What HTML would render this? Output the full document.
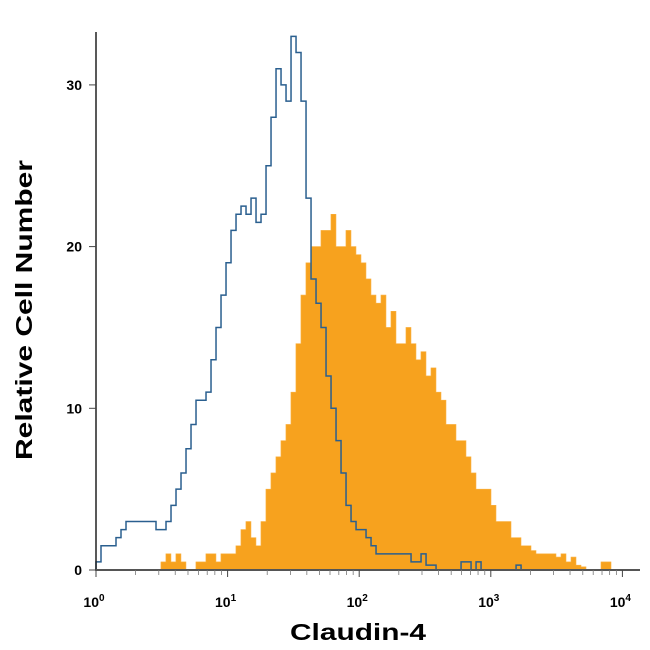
<!DOCTYPE html>
<html><head><meta charset="utf-8"><style>
body{margin:0;background:#fff}
svg{display:block;font-family:"Liberation Sans",sans-serif}
</style></head><body>
<svg id="chart" width="650" height="650">
<g id="plot"></g>
<g id="axes"></g>
<text x="358" y="640" text-anchor="middle" font-size="23" font-weight="bold" textLength="136" lengthAdjust="spacingAndGlyphs">Claudin-4</text>
<text transform="translate(32,310) rotate(-90)" text-anchor="middle" font-size="23" font-weight="bold" textLength="300" lengthAdjust="spacingAndGlyphs">Relative Cell Number</text>
</svg>
<script>
// log10 bin starts and step (decades)
const blueStart = 0.0;
const orangeStart = 0.4554;
const binStep = 0.038;
const blueValues = [0.5,1.5,1.5,1.5,2,2.5,3,3,3,3,3,3,2.5,2.5,3,4,5,6,7.5,9,10.5,10.5,11,13,15,17,19,21,22,22.5,22,23,21.5,22,25,28,31,30,29,33,32,29,23,18,16.5,15,12,10,8,6,4,3,2.5,2.5,2,1.5,1,1,1,1,1,1,1,0.5,0.5,1,0.3,0.3,0,0,0,0,0,0.5,0.5,0,0.5,0,0,0,0,0,0,0,0.3,0,0,0,0];
const orangeValues = [0,0.5,1,0.5,1,0.5,0,0,0.5,0.5,1,1,0.5,1,1,1,1.5,2.5,3,2,1.5,3,5,6,7,8,9,11,14,17,19,20,20,21,21,22,20,20,21,20,19.5,19,18,17,16.5,17,15,16,14,14,15,14,13,13.5,12,12.5,11,10.5,9,9,8,8,7,6,5,5,5,4,3,3,3,2,2,1.5,1.5,1.2,1,1,1,1,0.8,1,0.5,0.8,0.3,0.2,0,0,0,0.5,0.5,0,0,0];
const yTicks = [0,10,20,30];
const xDecades = [0,1,2,3,4];

const X0=96, DEC=131.6, Y0=570, UNIT=16.17, YTOP=32;
const xs = l => X0 + l*DEC;
const ys = v => Y0 - Math.min(v,33.2)*UNIT;
const NS="http://www.w3.org/2000/svg";
const plot=document.getElementById('plot'), axes=document.getElementById('axes');
function mk(tag,attrs,parent){const e=document.createElementNS(NS,tag);for(const k in attrs)e.setAttribute(k,attrs[k]);parent.appendChild(e);return e;}

function stepPath(start,vals,close){
  let d='M'+xs(start)+','+Y0;
  vals.forEach((v,i)=>{const a=xs(start+i*binStep),b=xs(start+(i+1)*binStep);d+=' L'+a+','+ys(v)+' L'+b+','+ys(v);});
  d+=' L'+xs(start+vals.length*binStep)+','+Y0;
  if(close)d+=' Z';
  return d;
}
const o=mk('path',{d:stepPath(orangeStart,orangeValues,true),fill:'#f7a21e',stroke:'#f9b040','stroke-width':0.6},plot);


const b=mk('path',{d:stepPath(blueStart,blueValues,false),fill:'none',stroke:'#2a5f8f','stroke-width':1.5},plot);



const ya=mk('line',{x1:X0,y1:YTOP,x2:X0,y2:Y0+1,stroke:'#222','stroke-width':1.5},axes);


const xa=mk('line',{x1:X0,y1:Y0,x2:640,y2:Y0,stroke:'#555','stroke-width':2},axes);



yTicks.forEach(t=>{
  mk('line',{x1:X0-7,y1:ys(t),x2:X0,y2:ys(t),stroke:'#444','stroke-width':1},axes);
  const tx=mk('text',{x:X0-14,y:ys(t)+5,'text-anchor':'end','font-size':14,'font-weight':'bold'},axes);
  tx.textContent=t;
  
  
});
xDecades.forEach(d=>{
  mk('line',{x1:xs(d),y1:Y0,x2:xs(d),y2:Y0+7,stroke:'#444','stroke-width':1},axes);
  if(d<4){for(let m=2;m<10;m++){const p=xs(d+Math.log10(m));mk('line',{x1:p,y1:Y0,x2:p,y2:Y0+5,stroke:'#777','stroke-width':0.8},axes);}}
  const tx=mk('text',{x:xs(d)-2,y:Y0+37,'text-anchor':'middle','font-size':14,'font-weight':'bold'},axes);
  tx.textContent='10';
  const sp=mk('tspan',{dy:-6,'font-size':10},tx);
  sp.textContent=d;
  
  
});
</script>
</body></html>
